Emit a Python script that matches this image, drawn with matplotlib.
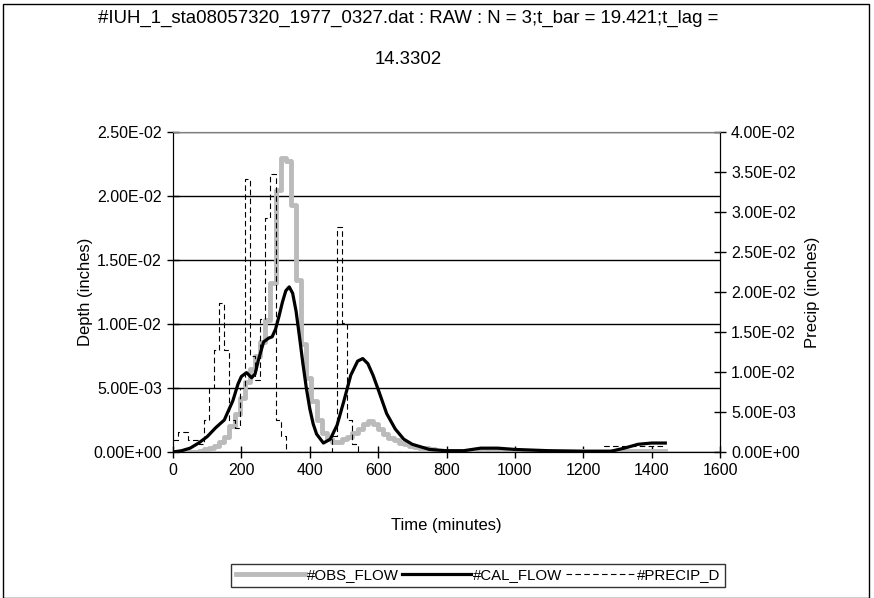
import numpy as np
import matplotlib
matplotlib.use('Agg')
from matplotlib import pyplot as plt
from matplotlib.ticker import FormatStrFormatter

plt.rcParams['font.family'] = ['Liberation Sans', 'DejaVu Sans']

# observed flow, 15 min steps (inches)
obs_t = [0, 15, 30, 45, 60, 75, 90, 105, 120, 135, 150, 165, 180, 195, 210, 225, 240,
         255, 270, 285, 300, 315, 330, 345, 360, 375, 390, 405, 420, 435, 450, 465, 480,
         495, 510, 525, 540, 555, 570, 585, 600, 615, 630, 645, 660, 675, 690, 705, 720,
         735, 750, 765, 780, 1440]
obs_v = [0, 0, 0, 0, 0, 0.0001, 0.0002, 0.0003, 0.0005, 0.0008, 0.0012, 0.002, 0.003,
         0.0042, 0.0055, 0.0065, 0.0075, 0.0086, 0.0103, 0.0132, 0.0205, 0.0230, 0.0227,
         0.0193, 0.0134, 0.0084, 0.0058, 0.0040, 0.0025, 0.0015, 0.0010, 0.0008, 0.0008,
         0.0010, 0.0012, 0.0015, 0.0018, 0.0022, 0.0024, 0.0022, 0.0018, 0.0014, 0.0011,
         0.0009, 0.0007, 0.0006, 0.0005, 0.0004, 0.0003, 0.0003, 0.0002, 0.0001, 0.0001,
         0.0001]

# calculated flow
cal_t = [0, 25, 50, 75, 100, 125, 150, 175, 190, 200, 215, 230, 240, 250, 265, 280,
         290, 300, 310, 320, 330, 340, 350, 360, 370, 380, 390, 400, 410, 420, 440, 460,
         480, 500, 520, 540, 555, 570, 585, 600, 625, 650, 675, 700, 750, 800, 850, 900,
         950, 1000, 1100, 1200, 1280, 1320, 1360, 1400, 1440]
cal_v = [0, 0.0001, 0.0003, 0.0007, 0.0012, 0.0019, 0.0025, 0.0040, 0.0053, 0.0059,
         0.0062, 0.0058, 0.0061, 0.0072, 0.0086, 0.0089, 0.0090, 0.0096, 0.0106, 0.0117,
         0.0126, 0.0129, 0.0124, 0.0110, 0.0090, 0.0069, 0.0050, 0.0034, 0.0022, 0.0014,
         0.0007, 0.0010, 0.0021, 0.0040, 0.0060, 0.0071, 0.0073, 0.0069, 0.0060, 0.0049,
         0.0030, 0.0018, 0.0010, 0.0006, 0.0002, 0.0001, 0.0001, 0.0003, 0.0003, 0.0002,
         0.0001, 0.00005, 0.00005, 0.0003, 0.0006, 0.0007, 0.0007]

# precipitation, 15 min steps (inches)
pre_t = [0, 15, 30, 45, 60, 75, 90, 105, 120, 135, 150, 165, 180, 195, 210, 225, 240,
         255, 270, 285, 300, 315, 330, 465, 480, 495, 510, 525, 540, 1260, 1440]
pre_v = [0.0015, 0.0025, 0.0025, 0.0015, 0.0015, 0.001, 0.004, 0.008, 0.0128, 0.0186,
         0.0128, 0.004, 0.003, 0.008, 0.0341, 0.012, 0.009, 0.0166, 0.0293, 0.0348,
         0.004, 0.002, 0, 0.002, 0.0281, 0.0161, 0.004, 0.001, 0, 0.0008, 0.0008]

title_1 = '#IUH_1_sta08057320_1977_0327.dat : RAW : N = 3;t_bar = 19.421;t_lag ='
title_2 = '14.3302'

fig = plt.figure(figsize = (8.74, 5.98), dpi = 100)
ax = fig.add_axes([173/874, 146/598, 547/874, 320/598])
ax2 = ax.twinx()

ax.set_xlim([0, 1600])
ax.set_ylim([0, 0.025])
ax2.set_ylim([0, 0.04])
ax.set_xticks(np.arange(0, 1601, 200))
ax.set_yticks(np.arange(0, 0.0251, 0.005))
ax2.set_yticks(np.arange(0, 0.0401, 0.005))
ax.yaxis.set_major_formatter(FormatStrFormatter('%.2E'))
ax2.yaxis.set_major_formatter(FormatStrFormatter('%.2E'))
ax.yaxis.grid(True, color = 'k', lw = 1)
ax.set_axisbelow(True)

for a in [ax, ax2]:
    a.tick_params(direction = 'inout', length = 9, width = 1, labelsize = 11.5, colors = 'k')
    for s in a.spines.values():
        s.set_color('k')
ax.spines['top'].set_color('#808080')
ax2.spines['top'].set_color('#808080')

l1, = ax.plot(obs_t, obs_v, drawstyle = 'steps-post', color = '#bbbbbb', lw = 3.5, label = '#OBS_FLOW')
l2, = ax.plot(cal_t, cal_v, color = 'k', lw = 2.3, label = '#CAL_FLOW')
l3, = ax2.plot(pre_t, pre_v, drawstyle = 'steps-post', color = 'k', lw = 0.8, ls = (0, (5, 3)), label = '#PRECIP_D')

ax.set_xlabel('Time (minutes)', fontsize = 12, labelpad = 29)
ax.set_ylabel('Depth (inches)', fontsize = 12, labelpad = 0)
ax2.set_ylabel('Precip (inches)', fontsize = 12, labelpad = 4)

fig.text(408/874, 1 - 18/598, title_1, ha = 'center', va = 'center', fontsize = 13.4)
fig.text(408/874, 1 - 60/598, title_2, ha = 'center', va = 'center', fontsize = 13.4)

leg = fig.legend([l1, l2, l3], ['#OBS_FLOW', '#CAL_FLOW', '#PRECIP_D'], loc = 'center',
                 bbox_to_anchor = (478/874, 1 - 575/598), ncol = 3, fontsize = 10.8, frameon = True,
                 fancybox = False, edgecolor = 'k', handlelength = 4.6, columnspacing = 0.2,
                 handletextpad = 0.15, borderpad = 0.3)
leg.get_frame().set_linewidth(1)

# chart border
fig.patches.append(plt.Rectangle((3/874, 0), 866/874, 1 - 4/598, transform = fig.transFigure,
                                 fill = False, edgecolor = 'k', lw = 1))

fig.savefig('out.png', dpi = 100)
